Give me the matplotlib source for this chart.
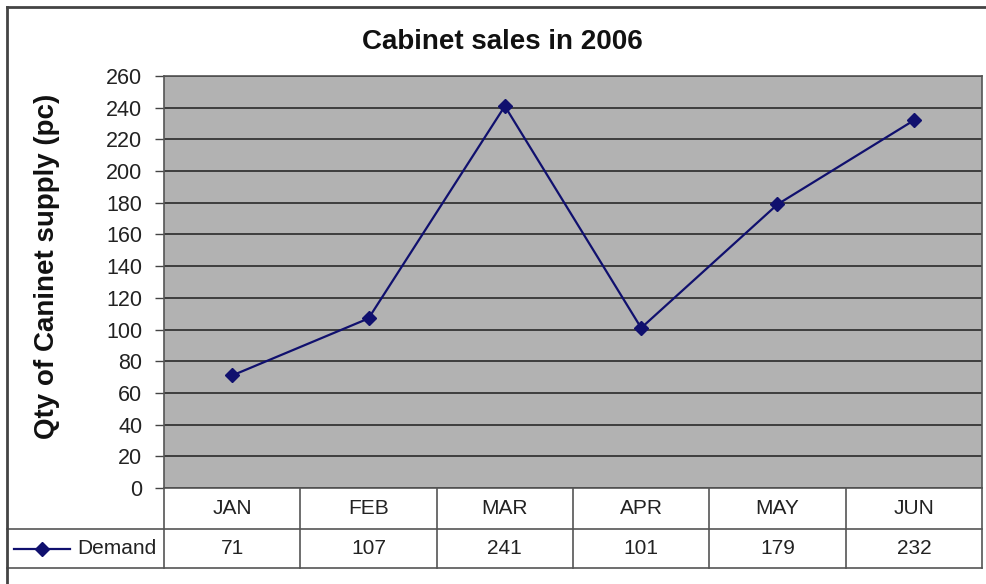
import matplotlib.pyplot as plt
from matplotlib.lines import Line2D

plt.rcParams['font.family'] = ['Liberation Sans', 'DejaVu Sans']

months = ["JAN", "FEB", "MAR", "APR", "MAY", "JUN"]
demand = [71, 107, 241, 101, 179, 232]
series_name = "Demand"
yticks = list(range(0, 261, 20))

W, H = 987, 584
fig = plt.figure(figsize=(W / 100, H / 100), dpi=100)
fig.patch.set_facecolor("white")

# plot area in pixel terms: left 164, right 982, top 76, bottom 488
left, right, top, bottom = 164, 982, 76, 488
ax = fig.add_axes([left / W, 1 - bottom / H, (right - left) / W, (bottom - top) / H])
ax.set_facecolor("#b2b2b2")

x = list(range(len(months)))
ax.plot(x, demand, color="#10106e", lw=1.6, marker="D", ms=7, zorder=3)

ax.set_xlim(-0.5, len(months) - 0.5)
ax.set_ylim(0, 260)
ax.set_yticks(yticks)
ax.set_xticks([])
ax.yaxis.grid(True, color="#2a2a2a", lw=1.2)
ax.set_axisbelow(True)
ax.tick_params(axis="y", length=6.5, width=1, color="#444444", labelsize=15.5, pad=9,
               labelcolor="#222222")
for s in ax.spines.values():
    s.set_color("#555555")
    s.set_linewidth(1.2)

# title and y label placed over the whole chart area like Excel does
fig.text(502 / W, 1 - 42 / H, "Cabinet sales in 2006", fontsize=20, fontweight="bold",
         ha="center", va="center", color="#111111")
fig.text(47 / W, 1 - 266 / H, "Qty of Caninet supply (pc)", fontsize=20, fontweight="bold",
         rotation=90, ha="center", va="center", color="#111111")

# data table under the plot
h_px = bottom - top
row1 = -41 / h_px
row2 = -80 / h_px
x_left = (7 - left) / (right - left)
tc = "#555555"
trans = ax.get_xaxis_transform()
for b in [i - 0.5 for i in range(len(months) + 1)]:
    ax.plot([b, b], [0, row2], transform=trans, color=tc, lw=1.2, clip_on=False)
for yy in (row1, row2):
    ax.plot([x_left, 1], [yy, yy], transform=ax.transAxes, color=tc, lw=1.2, clip_on=False)
for i, (m, v) in enumerate(zip(months, demand)):
    ax.text(i, row1 / 2, m, transform=trans, ha="center", va="center", fontsize=15, color="#222222")
    ax.text(i, (row1 + row2) / 2, str(v), transform=trans, ha="center", va="center", fontsize=15,
            color="#222222")

# legend key in the table
key_y = (row1 + row2) / 2
kx0 = (14 - left) / (right - left)
kx1 = (70 - left) / (right - left)
ax.plot([kx0, kx1], [key_y, key_y], transform=ax.transAxes, color="#10106e", lw=1.6, clip_on=False)
ax.plot([(kx0 + kx1) / 2], [key_y], transform=ax.transAxes, color="#10106e", marker="D", ms=7,
        clip_on=False)
ax.text((77 - left) / (right - left), key_y, series_name, transform=ax.transAxes,
        ha="left", va="center", fontsize=15, color="#222222")

# outer chart frame (cropped on right and bottom)
fig.add_artist(Line2D([7 / W, 7 / W], [0, 1 - 7 / H], color="#444444", lw=2))
fig.add_artist(Line2D([7 / W, 1], [1 - 7 / H, 1 - 7 / H], color="#444444", lw=2))

fig.savefig("out.png", dpi=100)
